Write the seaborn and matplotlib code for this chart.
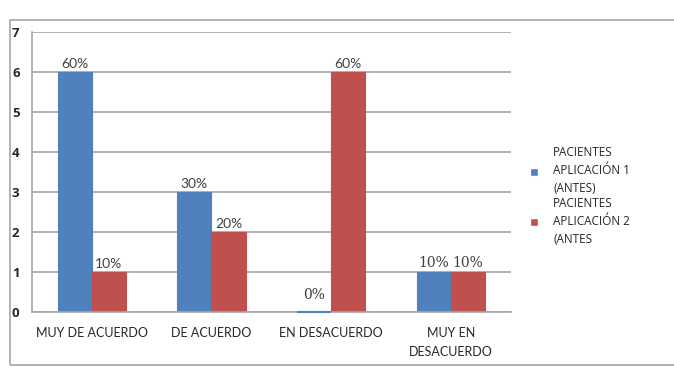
import pandas as pd
import seaborn as sns
import matplotlib.pyplot as plt
from matplotlib.patches import Rectangle

# chart values
categorias = ['MUY DE ACUERDO', 'DE ACUERDO', 'EN DESACUERDO', 'MUY EN\nDESACUERDO']
aplicacion_1 = [6, 3, 0, 1]
aplicacion_2 = [1, 2, 6, 1]
etiquetas_1 = ['60%', '30%', '0%', '10%']
etiquetas_2 = ['10%', '20%', '60%', '10%']
series = ['PACIENTES\nAPLICACIÓN 1\n(ANTES)', 'PACIENTES\nAPLICACIÓN 2\n(ANTES']

df = pd.DataFrame({
    'categoria': categorias * 2,
    'valor': aplicacion_1 + aplicacion_2,
    'serie': [series[0]] * 4 + [series[1]] * 4,
})

sns.set_style('white')
plt.rcParams['font.family'] = ['Lato', 'DejaVu Sans']

fig = plt.figure(figsize=(6.74, 3.67), dpi=100)
ax = fig.add_axes([0.0475, 0.15, 0.71, 0.763])

colores = ['#4F81BD', '#C0504D']
sns.barplot(data=df, x='categoria', y='valor', hue='serie', palette=colores,
            width=0.57, saturation=1, ax=ax, legend=True)

# give zero bars a visible line like the original
for cont, col in zip(ax.containers, colores):
    for bar in cont:
        bar.set_edgecolor(col)
        bar.set_linewidth(0.8)
        if bar.get_height() == 0:
            bar.set_linewidth(1.5)
            bar.set_zorder(5)
            bar.set_clip_on(False)

ax.set_ylim(0, 7)
ax.set_yticks(range(8))
ax.yaxis.grid(True, color='#A6A6A6', linewidth=1.2)
ax.set_axisbelow(True)
ax.set_xlabel('')
ax.set_ylabel('')
for s in ['top', 'right']:
    ax.spines[s].set_visible(False)
for s in ['left', 'bottom']:
    ax.spines[s].set_color('#A6A6A6')
    ax.spines[s].set_linewidth(1.2)
ax.tick_params(axis='y', length=0, pad=9, labelsize=9.5, labelcolor='#262626')
ax.tick_params(axis='x', length=0, pad=11, labelsize=9, labelcolor='#262626')
for t in ax.get_yticklabels():
    t.set_family('Open Sans')
    t.set_fontweight('bold')
for t in ax.get_xticklabels():
    t.set_linespacing(1.7)

# data labels
serif_labels = {(0, 2), (0, 3), (1, 3)}
for i, (cont, labs) in enumerate(zip(ax.containers, [etiquetas_1, etiquetas_2])):
    for j, (bar, lab) in enumerate(zip(cont, labs)):
        fam = ['DejaVu Serif'] if (i, j) in serif_labels else ['Lato', 'DejaVu Sans']
        off = 0.25 if (i, j) == (0, 2) else 0.06
        ax.text(bar.get_x() + bar.get_width() / 2, bar.get_height() + off, lab,
                ha='center', va='bottom', fontsize=10, color='#404040', family=fam)

leg = ax.legend(loc='center left', bbox_to_anchor=(0.77, 0.466), bbox_transform=fig.transFigure,
                frameon=False, handlelength=0.7, handleheight=0.7,
                handletextpad=1.3, labelspacing=0.1,
                prop={'family': 'Open Sans', 'size': 8.5})
for t in leg.get_texts():
    t.set_linespacing(1.5)
    t.set_horizontalalignment('left')
    t.set_multialignment('left')
    t.set_color('#262626')

# outer chart frame
fig.patches.append(Rectangle((10 / 674, 0.005), 1.2, 1 - 20 / 367 - 0.005,
                             transform=fig.transFigure, fill=False,
                             edgecolor='#A6A6A6', linewidth=1.2))

fig.savefig('out.png', dpi=100)
